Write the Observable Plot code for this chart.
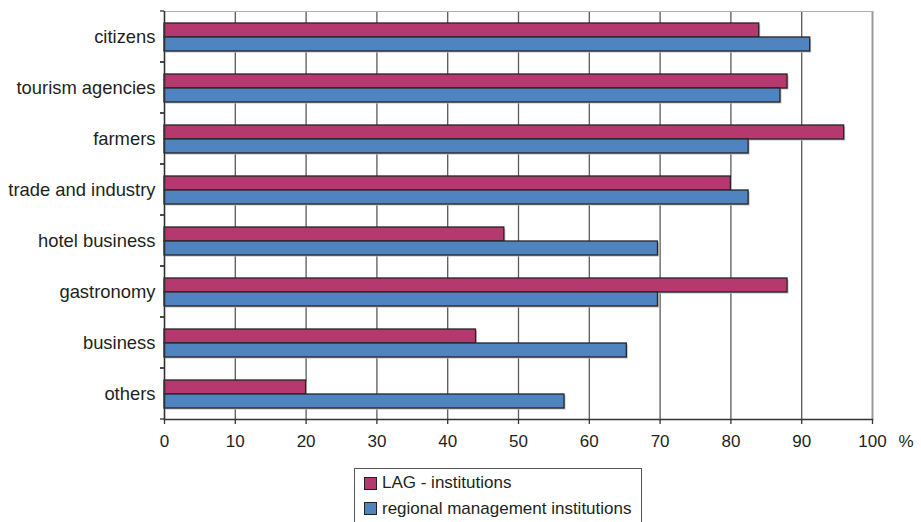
<!DOCTYPE html>
<html>
<head>
<meta charset="utf-8">
<script src="https://cdn.jsdelivr.net/npm/d3@7"></script>
<script src="https://cdn.jsdelivr.net/npm/@observablehq/plot@0.6"></script>
<style>
  html, body { margin: 0; padding: 0; background: #fff; overflow: hidden; }
  body { font-family: "Liberation Sans", Arial, Helvetica, sans-serif; color: #231f20; }
  #chart svg { display: block; }
  #legend {
    margin: 8px 0 0 354px;
    width: 288px;
    height: 80px;
    box-sizing: border-box;
    border: 1px solid #555;
    border-bottom: none;
    padding: 1.5px 0 0 9px;
    font-size: 17px;
  }
  #legend .item { display: flex; align-items: center; height: 25.5px; }
  #legend .swatch {
    width: 13px; height: 13px; box-sizing: border-box;
    border: 1.5px solid #222; margin-right: 5px; flex: none;
  }
</style>
</head>
<body>
<div id="chart"></div>
<div id="legend"></div>
<script>
// Survey answers per group of actors, in percent
const categories = ["citizens", "tourism agencies", "farmers", "trade and industry", "hotel business", "gastronomy", "business", "others"];
const series = ["LAG - institutions", "regional management institutions"];
const lagValues = [84, 88, 96, 80, 48, 88, 44, 20];
const regionalValues = [91.2, 87, 82.5, 82.5, 69.7, 69.7, 65.3, 56.5];
const xTicks = [0, 10, 20, 30, 40, 50, 60, 70, 80, 90, 100];
const colors = ["#b5396f", "#4f84c1"];

const rows = categories.flatMap((category, i) => [
  {category, series: series[0], value: lagValues[i]},
  {category, series: series[1], value: regionalValues[i]}
]);

const lastCategory = categories[categories.length - 1];

// short ticks left of the axis at every group boundary
function groupTicks(index, scales, values, dimensions) {
  const {marginTop, marginLeft, height, marginBottom} = dimensions;
  const g = d3.create("svg:g").attr("stroke", "#333").attr("stroke-width", 1.3);
  for (const y of [marginTop, height - marginBottom]) {
    g.append("line").attr("x1", marginLeft - 4).attr("x2", marginLeft).attr("y1", y).attr("y2", y);
  }
  return g.node();
}

const chart = Plot.plot({
  width: 921,
  height: 460,
  marginLeft: 164,
  marginRight: 49,
  marginTop: 8,
  marginBottom: 38,
  style: {fontFamily: "'Liberation Sans', Arial, Helvetica, sans-serif", color: "#231f20", background: "#fff", overflow: "visible"},
  x: {domain: [0, 100], axis: null},
  y: {domain: series, axis: null, paddingInner: 0, paddingOuter: 0.784},
  fy: {domain: categories, padding: 0, axis: null},
  color: {domain: series, range: colors},
  marks: [
    Plot.gridX(xTicks.slice(1, -1), {stroke: "#5a5a5a", strokeOpacity: 1, strokeWidth: 1.3}),
    Plot.barX(rows, {x: "value", y: "series", fy: "category", fill: "#bdbdbd", dx: 1.5, dy: 1.5}),
    Plot.barX(rows, {x: "value", y: "series", fy: "category", fill: "series", stroke: "#262626", strokeWidth: 1.3}),
    Plot.ruleX([100], {stroke: "#9a9a9a", strokeWidth: 2}),
    Plot.frame({anchor: "top", fy: [categories[0]], stroke: "#b0b0b0", strokeWidth: 1.2}),
    Plot.frame({anchor: "bottom", fy: [lastCategory], stroke: "#333", strokeWidth: 1.5}),
    Plot.ruleX([0], {stroke: "#333", strokeWidth: 1.6}),
    groupTicks,
    Plot.axisX(xTicks, {anchor: "bottom", tickSize: 5, tickPadding: 10, fontSize: 17, label: null, stroke: "#333", strokeWidth: 1.3}),
    Plot.axisFy({anchor: "left", tickSize: 0, tickPadding: 9, fontSize: 18.4, label: null}),
    Plot.text(["%"], {fy: [lastCategory], x: [100], frameAnchor: "bottom", dx: 26, dy: 15, lineAnchor: "top", textAnchor: "start", fontSize: 17, fill: "#231f20"})
  ]
});
document.getElementById("chart").append(chart);

// legend built from the same series and colours
const legend = d3.select("#legend");
series.forEach((s, i) => {
  const item = legend.append("div").attr("class", "item");
  item.append("span").attr("class", "swatch").style("background", colors[i]);
  item.append("span").text(s);
});
</script>
</body>
</html>
